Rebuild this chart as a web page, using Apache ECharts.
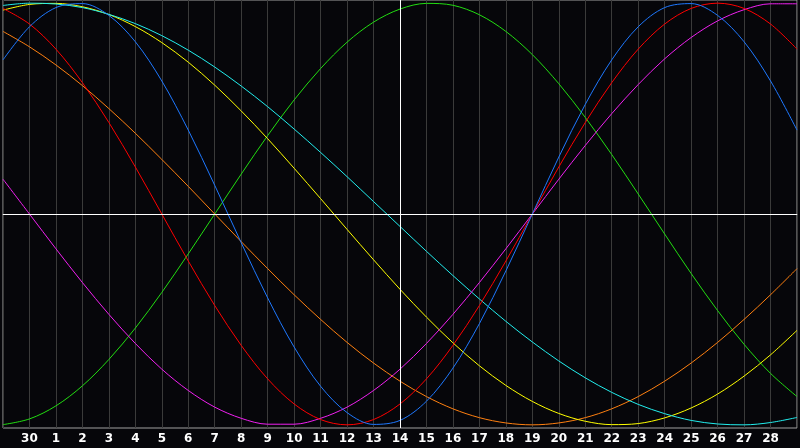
<!DOCTYPE html>
<html>
<head>
<meta charset="utf-8">
<script src="https://cdn.jsdelivr.net/npm/echarts@6/dist/echarts.min.js"></script>
<style>
html,body{margin:0;padding:0;background:#06060a;}
#chart{width:800px;height:448px;}
</style>
</head>
<body>
<div id="chart"></div>
<script>
// x positions 0..30 (one per day), tick labels shown at 1..29
const dayLabels = ['', '30', '1', '2', '3', '4', '5', '6', '7', '8', '9', '10', '11', '12', '13', '14',
  '15', '16', '17', '18', '19', '20', '21', '22', '23', '24', '25', '26', '27', '28', ''];
const todayIndex = 15;

// values read at each day line (percent of amplitude)
const green   = [-99.9,-97.2,-91.0,-81.5,-69.0,-54.1,-37.2,-18.9,0,18.9,37.2,54.1,69.0,81.5,91.0,97.2,99.9,99.0,94.5,86.6,75.6,61.8,45.8,28.2,9.5,-9.5,-28.2,-45.8,-61.8,-75.6,-86.6];
const red     = [97.5,90.1,78.2,62.3,43.4,22.3,0,-22.3,-43.4,-62.3,-78.2,-90.1,-97.5,-100,-97.5,-90.1,-78.2,-62.3,-43.4,-22.3,0,22.3,43.4,62.3,78.2,90.1,97.5,100,97.5,90.1,78.2];
const blue    = [73.1,88.8,97.9,99.8,94.2,81.7,63.1,39.8,13.6,-13.6,-39.8,-63.1,-81.7,-94.2,-99.8,-97.9,-88.8,-73.1,-52.0,-27.0,0,27.0,52.0,73.1,88.8,97.9,99.8,94.2,81.7,63.1,39.8];
const magenta = [16.5,0,-16.5,-32.5,-47.6,-61.4,-73.6,-83.7,-91.6,-96.9,-99.7,-99.7,-96.9,-91.6,-83.7,-73.6,-61.4,-47.6,-32.5,-16.5,0,16.5,32.5,47.6,61.4,73.6,83.7,91.6,96.9,99.7,99.7];
const yellow  = [96.7,99.4,99.9,98.3,94.6,88.9,81.3,72.0,61.1,48.9,35.7,21.7,7.3,-7.3,-21.7,-35.7,-48.9,-61.1,-72.0,-81.3,-88.9,-94.6,-98.3,-99.9,-99.4,-96.7,-92.0,-85.4,-76.9,-66.8,-55.2];
const cyan    = [98.9,100,99.6,97.9,94.7,90.3,84.6,77.7,69.7,60.7,50.9,40.3,29.2,17.7,5.9,-5.9,-17.7,-29.2,-40.3,-50.9,-60.7,-69.7,-77.7,-84.6,-90.3,-94.7,-97.9,-99.6,-100,-98.9,-96.5];
const orange  = [86.6,79.3,70.7,60.9,50.0,38.3,25.9,13.1,0,-13.1,-25.9,-38.3,-50.0,-60.9,-70.7,-79.3,-86.6,-92.4,-96.6,-99.1,-100,-99.1,-96.6,-92.4,-86.6,-79.3,-70.7,-60.9,-50.0,-38.3,-25.9];

const curves = [
  {name:'green', data:green, color:'#22dd11'},
  {name:'orange', data:orange, color:'#ff8010'},
  {name:'yellow', data:yellow, color:'#ffff00'},
  {name:'cyan', data:cyan, color:'#22eeee'},
  {name:'magenta', data:magenta, color:'#f020f0'},
  {name:'red', data:red, color:'#ff0000'},
  {name:'blue', data:blue, color:'#1e78ff'}
];

const chart = echarts.init(document.getElementById('chart'), null, {renderer:'canvas'});
const series = curves.map(c => ({
  name: c.name,
  type: 'line',
  data: c.data.map((v, i) => [i, v]),
  smooth: 0.33,
  symbol: 'none',
  lineStyle: {color: c.color, width: 1},
  z: 3,
  silent: true
}));
series.unshift({
  type: 'line',
  data: [],
  z: 2,
  silent: true,
  markLine: {
    silent: true,
    symbol: 'none',
    label: {show: false},
    lineStyle: {color: '#ffffff', width: 1, type: 'solid'},
    data: [{yAxis: 0}, {xAxis: todayIndex}]
  }
});

chart.setOption({
  animation: false,
  backgroundColor: '#06060a',
  grid: {left: 0, right: 1, top: 0, bottom: 20, show: true, borderColor: '#a0a0a0', borderWidth: 1, backgroundColor: '#06060a'},
  xAxis: {
    type: 'value', min: 0, max: 30, interval: 1,
    axisLine: {show: true, lineStyle: {color: '#a8a8a8', width: 1}},
    axisTick: {show: false},
    splitLine: {show: true, lineStyle: {color: '#3a3a3a', width: 1}},
    axisLabel: {
      color: '#ffffff', fontFamily: 'DejaVu Sans', fontWeight: 'bold', fontSize: 12, margin: 5,
      formatter: v => dayLabels[Math.round(v)] || ''
    }
  },
  yAxis: {
    type: 'value', min: -101.5, max: 101.5,
    axisLine: {show: false}, axisTick: {show: false}, axisLabel: {show: false}, splitLine: {show: false}
  },
  series: series
});
</script>
</body>
</html>
